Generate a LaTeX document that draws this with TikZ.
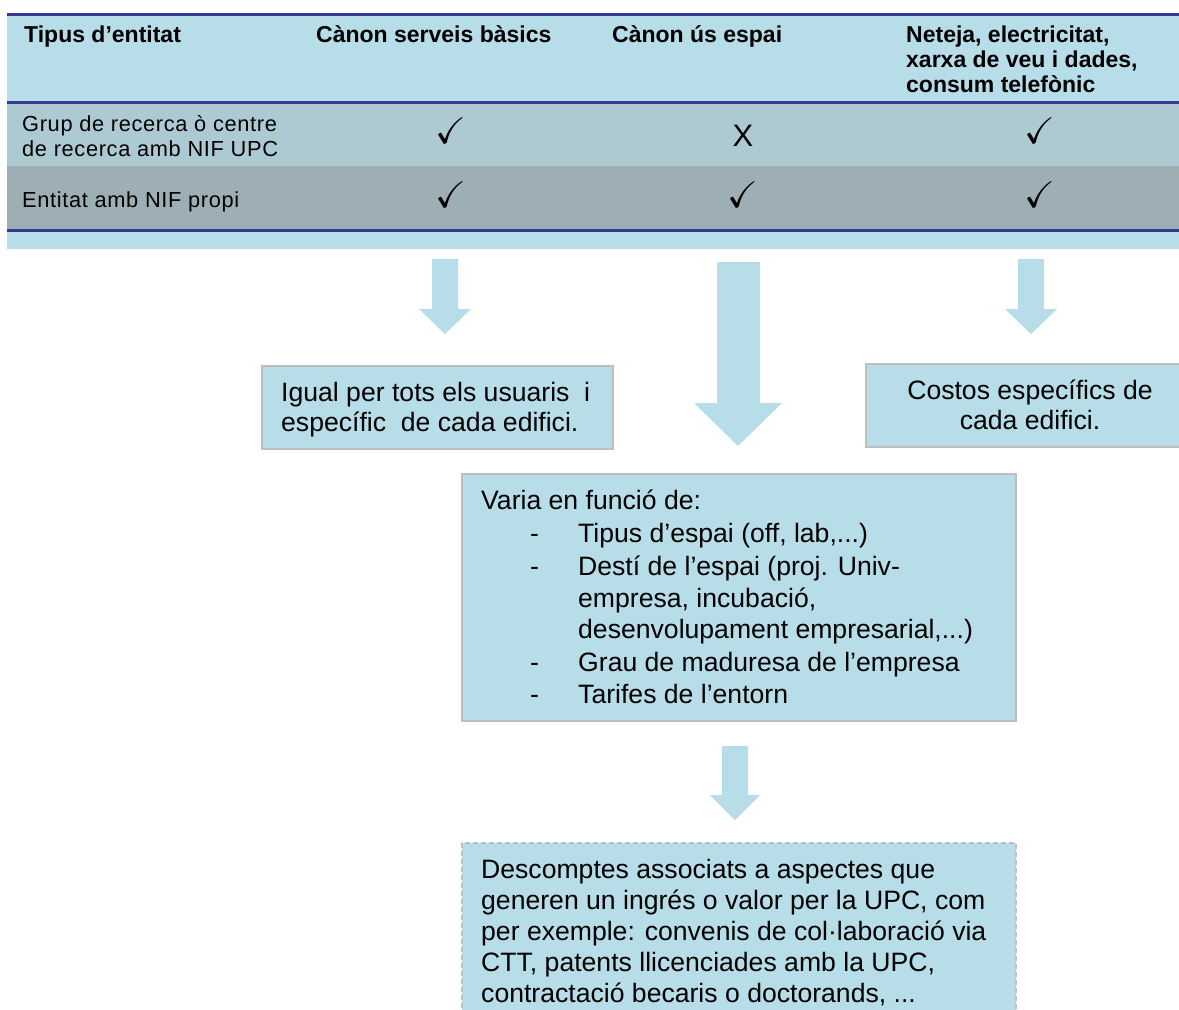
\documentclass[tikz,border=0pt]{standalone}
\usepackage{fontspec}
\usepackage{amssymb}
\setmainfont{Liberation Sans}
\definecolor{hdr}{HTML}{B7DDE8}
\definecolor{rowa}{HTML}{ADCAD3}
\definecolor{rowb}{HTML}{9DAFB5}
\definecolor{navy}{HTML}{343A8E}
\definecolor{bord}{HTML}{BEBEBE}
\tikzset{
  hdrtxt/.style={anchor=base west, inner sep=0, font=\fontsize{23}{25}\selectfont\bfseries},
  rowtxt/.style={anchor=base west, inner sep=0, font=\fontsize{21.8}{25}\selectfont\addfontfeatures{LetterSpace=3}},
  bodytxt/.style={anchor=base west, inner sep=0, font=\fontsize{26.6}{31}\selectfont},
  ctrtxt/.style={anchor=base, inner sep=0, font=\fontsize{26.6}{31}\selectfont},
  tick/.style={inner sep=0, font=\fontsize{37}{37}\selectfont},
  cross/.style={inner sep=0, font=\fontsize{31}{31}\selectfont},
  boxstyle/.style={draw=bord, line width=2pt, fill=hdr},
  dboxstyle/.style={draw=bord, line width=1.6pt, fill=hdr, dash pattern=on 5pt off 3pt},
  navyline/.style={draw=navy, line width=3pt},
  blockarrow/.style={fill=hdr, draw=none}
}
\begin{document}
\begin{tikzpicture}[x=1pt,y=-1pt]
\useasboundingbox (0,0) rectangle (1179,1010);
% table
\fill[hdr] (7,14) rectangle (1179,102);
\fill[rowa] (7,102) rectangle (1179,166);
\fill[rowb] (7,166) rectangle (1179,230);
\fill[hdr] (7,230) rectangle (1179,249);
\draw[navyline] (7,14) -- (1179,14);
\draw[navyline] (7,102) -- (1179,102);
\draw[navyline] (7,230) -- (1179,230);
% header
\node[hdrtxt] (h1) at (24,42) {Tipus d’entitat};
\node[hdrtxt] (h2) at (316,42) {Cànon serveis bàsics};
\node[hdrtxt] (h3) at (612,42) {Cànon ús espai};
\node[hdrtxt] (h4a) at (906,42) {Neteja, electricitat,};
\node[hdrtxt] (h4b) at (906,67) {xarxa de veu i dades,};
\node[hdrtxt] (h4c) at (906,92) {consum telefònic};
% rows
\node[rowtxt] (r1a) at (22,131) {Grup de recerca ò centre};
\node[rowtxt] (r1b) at (22,156) {de recerca amb NIF\ UPC};
\node[rowtxt] (r2) at (22,207) {Entitat amb NIF\ propi};
\node[tick] (c11) at (451,131) {$\checkmark$};
\node[cross] (c12) at (743,136) {X};
\node[tick] (c13) at (1040,131) {$\checkmark$};
\node[tick] (c21) at (451,195) {$\checkmark$};
\node[tick] (c22) at (743,195) {$\checkmark$};
\node[tick] (c23) at (1040,195) {$\checkmark$};
% block arrows
\fill[blockarrow] (432,259) -- (458,259) -- (458,309) -- (471,309) -- (445,334) -- (419,309) -- (432,309) -- cycle;
\fill[blockarrow] (717,262) -- (760,262) -- (760,403) -- (782,403) -- (738,446) -- (694,403) -- (717,403) -- cycle;
\fill[blockarrow] (1018,259) -- (1044,259) -- (1044,309) -- (1057,309) -- (1031,334) -- (1005,309) -- (1018,309) -- cycle;
\fill[blockarrow] (722,746) -- (748,746) -- (748,795) -- (760,795) -- (735,820) -- (710,795) -- (722,795) -- cycle;
% boxes
\node[boxstyle, anchor=north west, minimum width=351pt, minimum height=83pt, inner sep=0] (bl) at (261,365) {};
\node[bodytxt] (bl1) at (281,401) {Igual per tots els usuaris\ \ i};
\node[bodytxt] (bl2) at (281,431) {específic\ \ de cada edifici.};
\node[boxstyle, anchor=north west, minimum width=320pt, minimum height=83pt, inner sep=0] (br) at (865,363) {};
\node[ctrtxt] (br1) at (1030,399) {Costos específics de};
\node[ctrtxt] (br2) at (1030,429) {cada edifici.};
\node[boxstyle, anchor=north west, minimum width=554pt, minimum height=247pt, inner sep=0] (bm) at (461,473) {};
\node[bodytxt] (m0) at (481,509) {Varia en funció de:};
\node[bodytxt] (d1) at (530,542) {-};
\node[bodytxt] (m1) at (578,542) {Tipus d’espai (off, lab,...)};
\node[bodytxt] (d2) at (530,575) {-};
\node[bodytxt] (m2) at (578,575) {Destí de l’espai (proj. Univ-};
\node[bodytxt] (m3) at (578,607) {empresa, incubació,};
\node[bodytxt] (m4) at (578,638) {desenvolupament empresarial,...)};
\node[bodytxt] (d3) at (530,671) {-};
\node[bodytxt] (m5) at (578,671) {Grau de maduresa de l’empresa};
\node[bodytxt] (d4) at (530,703) {-};
\node[bodytxt] (m6) at (578,703) {Tarifes de l’entorn};
\node[dboxstyle, anchor=north west, minimum width=554pt, minimum height=180pt, inner sep=0] (bd) at (461,842) {};
\node[bodytxt] (e1) at (481,878) {Descomptes associats a aspectes que};
\node[bodytxt] (e2) at (481,909) {generen un ingrés o valor per la UPC, com};
\node[bodytxt] (e3) at (481,940) {per exemple: convenis de col·laboració via};
\node[bodytxt] (e4) at (481,971) {CTT, patents llicenciades amb la UPC,};
\node[bodytxt] (e5) at (481,1002) {contractació becaris o doctorands, ...};
\end{tikzpicture}
\end{document}
